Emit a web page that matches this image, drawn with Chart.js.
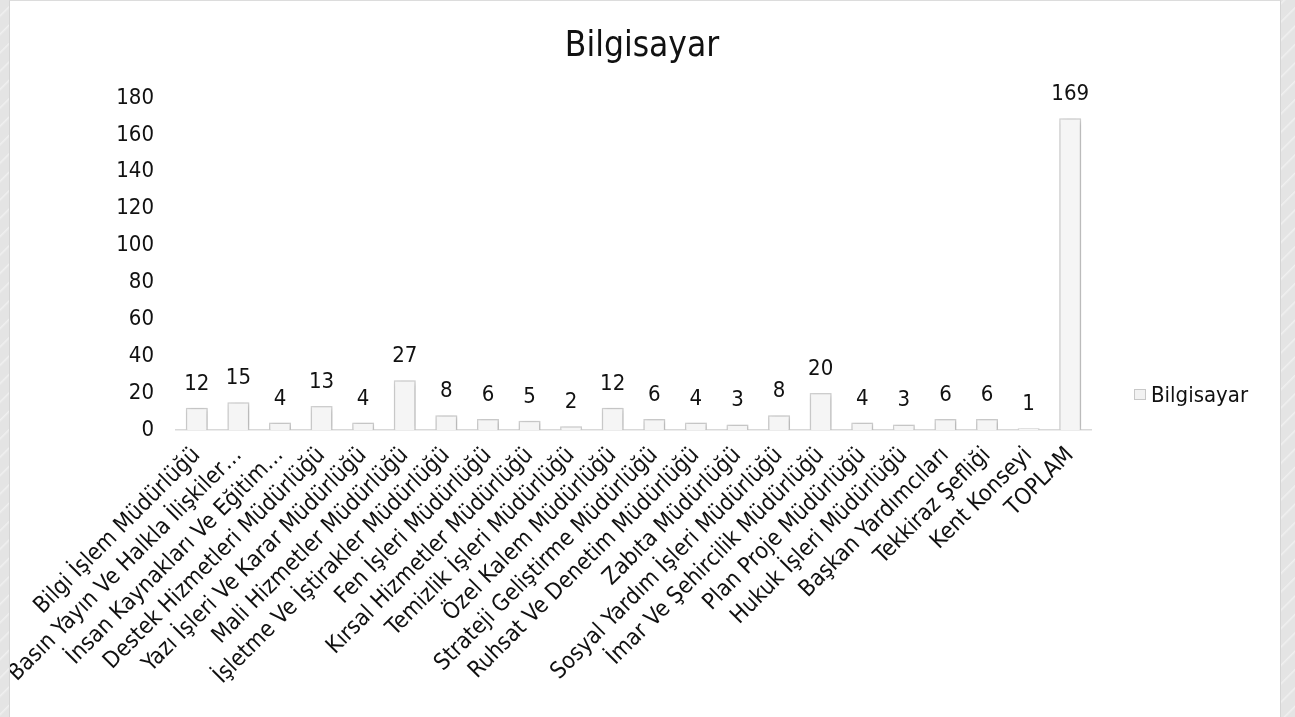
<!DOCTYPE html>
<html>
<head>
<meta charset="utf-8">
<script src="https://cdn.jsdelivr.net/npm/chart.js@4.4.0/dist/chart.umd.min.js"></script>
<style>
  html, body { margin: 0; padding: 0; }
  body {
    width: 1295px; height: 717px; overflow: hidden;
    background: #e4e4e4 repeating-linear-gradient(135deg, #e4e4e4 0px, #e4e4e4 10px, #f0f0f0 11px, #e4e4e4 13px);
    position: relative;
  }
  #card {
    position: absolute; left: 9px; top: 0; width: 1270px; height: 717px;
    background: #fff; border-left: 1px solid #d4d4d4; border-right: 1px solid #d4d4d4; border-top: 1px solid #dcdcdc;
  }
</style>
</head>
<body>
<div id="card"><canvas id="chart" width="1270" height="717"></canvas></div>
<script>
const seriesName = "Bilgisayar";
const categories = [
    "Bilgi İşlem Müdürlüğü",
    "Basın Yayın Ve Halkla İlişkiler…",
    "İnsan Kaynakları Ve Eğitim…",
    "Destek Hizmetleri Müdürlüğü",
    "Yazı İşleri Ve Karar Müdürlüğü",
    "Mali Hizmetler Müdürlüğü",
    "İşletme Ve İştirakler Müdürlüğü",
    "Fen İşleri Müdürlüğü",
    "Kırsal Hizmetler Müdürlüğü",
    "Temizlik İşleri Müdürlüğü",
    "Özel Kalem Müdürlüğü",
    "Strateji Geliştirme Müdürlüğü",
    "Ruhsat Ve Denetim Müdürlüğü",
    "Zabıta Müdürlüğü",
    "Sosyal Yardım İşleri Müdürlüğü",
    "İmar Ve Şehircilik Müdürlüğü",
    "Plan Proje Müdürlüğü",
    "Hukuk İşleri Müdürlüğü",
    "Başkan Yardımcıları",
    "Tekkiraz Şefliği",
    "Kent Konseyi",
    "TOPLAM"
];
const values = [12, 15, 4, 13, 4, 27, 8, 6, 5, 2, 12, 6, 4, 3, 8, 20, 4, 3, 6, 6, 1, 169];
const yTicks = [0, 20, 40, 60, 80, 100, 120, 140, 160, 180];

const FONT = '"DejaVu Sans Condensed", "Noto Sans", sans-serif';

// shadow under the bars
const barShadow = {
    id: 'barShadow',
    beforeDatasetsDraw(chart) {
        const c = chart.ctx;
        c.save();
        c.shadowColor = 'rgba(0,0,0,0.22)';
        c.shadowBlur = 5;
        c.shadowOffsetX = 1;
        c.shadowOffsetY = 1;
    },
    afterDatasetsDraw(chart) {
        chart.ctx.restore();
    }
};

// title, value labels above bars, legend on the right
const textLayer = {
    id: 'textLayer',
    afterDraw(chart) {
        const c = chart.ctx;
        const meta = chart.getDatasetMeta(0);
        c.save();
        c.fillStyle = '#111';

        c.font = '35px ' + FONT;
        c.textAlign = 'center';
        c.textBaseline = 'alphabetic';
        c.fillText(seriesName, 632, 55);

        c.font = '22px ' + FONT;
        meta.data.forEach((bar, i) => {
            c.fillText(String(values[i]), bar.x, bar.y - 18);
        });

        // legend
        const lx = 1124, ly = 388;
        c.fillStyle = '#f2f2f2';
        c.strokeStyle = '#c8c8c8';
        c.lineWidth = 1;
        c.fillRect(lx, ly, 12, 11);
        c.strokeRect(lx + 0.5, ly + 0.5, 11, 10);
        c.fillStyle = '#111';
        c.textAlign = 'left';
        c.font = '22px ' + FONT;
        c.fillText(seriesName, lx + 17, 401);
        c.restore();
    }
};

new Chart(document.getElementById('chart'), {
    type: 'bar',
    data: {
        labels: categories,
        datasets: [{
            label: seriesName,
            data: values,
            backgroundColor: '#f5f5f5',
            borderColor: '#d2d2d2',
            borderWidth: 1.5,
            barPercentage: 0.53,
            categoryPercentage: 1
        }]
    },
    options: {
        responsive: false,
        animation: false,
        layout: { padding: { left: 0, right: 189, top: 97, bottom: 0 } },
        plugins: {
            legend: { display: false },
            tooltip: { enabled: false },
            title: { display: false }
        },
        scales: {
            x: {
                grid: { display: false, drawTicks: false },
                border: { color: '#d9d9d9', width: 1.5 },
                ticks: {
                    color: '#111',
                    font: { family: FONT, size: 23 },
                    minRotation: 45,
                    maxRotation: 45,
                    autoSkip: false,
                    padding: 12
                },
                afterFit(s) { s.height = 288; }
            },
            y: {
                min: 0,
                max: 180,
                afterBuildTicks(s) { s.ticks = yTicks.map(v => ({ value: v })); },
                grid: { display: false, drawTicks: false },
                border: { display: false },
                ticks: {
                    color: '#111',
                    font: { family: FONT, size: 22 },
                    padding: 22
                },
                afterFit(s) { s.width = 166; }
            }
        }
    },
    plugins: [barShadow, textLayer]
});
</script>
</body>
</html>
